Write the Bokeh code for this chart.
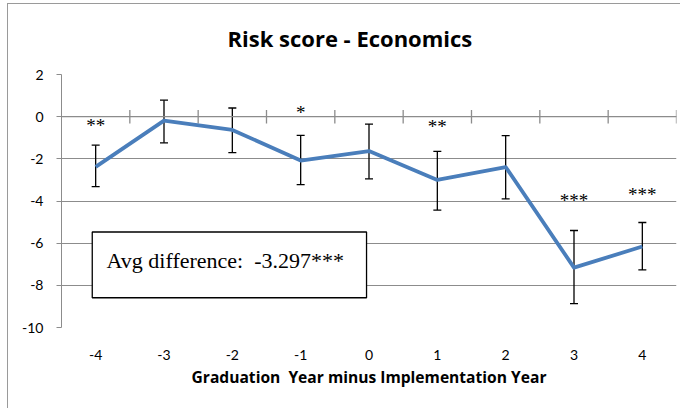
from bokeh.plotting import figure
from bokeh.models import (Range1d, FixedTicker, Span, Whisker, ColumnDataSource,
                          BoxAnnotation, Label, TeeHead, Title)
from bokeh.core.properties import value
from bokeh.embed import file_html
from bokeh.resources import INLINE

# ---------------- data ----------------
title_text = "Risk score - Economics"
x_title = "Graduation\u00a0 Year minus Implementation Year"
years = [-4, -3, -2, -1, 0, 1, 2, 3, 4]
risk = [-2.38, -0.19, -0.63, -2.08, -1.63, -3.00, -2.39, -7.16, -6.16]
ci_upper = [-1.35, 0.78, 0.41, -0.89, -0.35, -1.65, -0.90, -5.40, -5.02]
ci_lower = [-3.32, -1.24, -1.71, -3.22, -2.95, -4.43, -3.90, -8.87, -7.27]
star_years = [-4, -1, 1, 3, 4]
star_text = ["**", "*", "**", "***", "***"]
star_y = [-0.43, 0.19, -0.48, -3.99, -3.69]
y_ticks = [-10, -8, -6, -4, -2, 0, 2]
avg_text = "Avg difference:\u00a0 -3.297***"

GRID = "#8c8c8c"
BLUE = "#4a7ebb"

p = figure(width=680, height=408,
           x_range=Range1d(years[0] - 0.5, years[-1] + 0.5),
           y_range=Range1d(min(y_ticks), max(y_ticks)),
           output_backend="svg", toolbar_location=None,
           min_border_left=61, min_border_right=4,
           min_border_top=74, min_border_bottom=81,
           outline_line_color=None,
           background_fill_color="white", border_fill_color=None)
# outer chart-area border (left and top edges visible in the reference)
p.styles = {"background": ("linear-gradient(#9a9a9a,#9a9a9a) 7px 3px / 1px 100% no-repeat, "
                           "linear-gradient(#9a9a9a,#9a9a9a) 7px 3px / 100% 1px no-repeat, white")}

# title
p.title = Title(text=title_text, align="left", offset=166, vertical_align="top",
                text_font="Open Sans", text_font_style="bold",
                text_font_size="22px", text_color="black", standoff=40)

# x axis (labels only; the visible axis line is at y=0)
xa = p.xaxis[0]
xa.ticker = FixedTicker(ticks=years)
xa.major_label_overrides = {t: str(t) for t in years}
xa.axis_line_color = None
xa.major_tick_line_color = None
xa.minor_tick_line_color = None
xa.major_label_text_font = "Lato"
xa.major_label_text_font_size = "14px"
xa.major_label_text_color = "black"
xa.major_label_standoff = 16
xa.axis_label = x_title
xa.axis_label_text_font = "Open Sans"
xa.axis_label_text_font_style = "bold"
xa.axis_label_text_font_size = "15.6px"
xa.axis_label_text_color = "black"
xa.axis_label_standoff = 3

ya = p.yaxis[0]
ya.ticker = FixedTicker(ticks=y_ticks)
ya.major_label_overrides = {t: str(t) for t in y_ticks}
ya.axis_line_color = GRID
ya.major_tick_line_color = GRID
ya.major_tick_out = 5
ya.major_tick_in = 0
ya.minor_tick_line_color = None
ya.major_label_text_font = "Lato"
ya.major_label_text_font_size = "14px"
ya.major_label_text_color = "black"
ya.major_label_standoff = 13

p.xgrid.grid_line_color = None
p.ygrid.ticker = FixedTicker(ticks=y_ticks)
p.ygrid.grid_line_color = GRID
p.ygrid.grid_line_width = 1

# horizontal axis crossing at 0 with tick marks between categories
p.add_layout(Span(location=0, dimension="width", line_color=GRID, line_width=1.3))
bounds = [y + 0.5 for y in years]
p.segment(x0=bounds, y0=[-0.32] * len(bounds), x1=bounds, y1=[0.32] * len(bounds),
          line_color=GRID, line_width=1.3)

# series
p.line(years, risk, line_color=BLUE, line_width=3.8, line_join="round")

src = ColumnDataSource(dict(x=years, upper=ci_upper, lower=ci_lower))
p.add_layout(Whisker(source=src, base="x", upper="upper", lower="lower",
                     line_color="black", line_width=1.3,
                     upper_head=TeeHead(size=8, line_color="black", line_width=1.3),
                     lower_head=TeeHead(size=8, line_color="black", line_width=1.3)))

p.text(x=star_years, y=star_y, text=star_text, text_font=value("Liberation Serif"),
       text_font_size="19px", text_align="center", text_baseline="middle",
       text_color="black")

# average difference box
p.add_layout(BoxAnnotation(left=-4.05, right=-0.036, top=-5.47, bottom=-8.59,
                           fill_color="white", fill_alpha=1.0,
                           line_color="black", line_alpha=1.0, line_width=1.3,
                           level="annotation"))
p.add_layout(Label(x=-3.84, y=-6.82, text=avg_text, text_font="Liberation Serif",
                   text_font_size="22px", text_baseline="alphabetic",
                   text_align="left", text_color="black"))

open("out.html", "w").write(file_html(p, INLINE))
